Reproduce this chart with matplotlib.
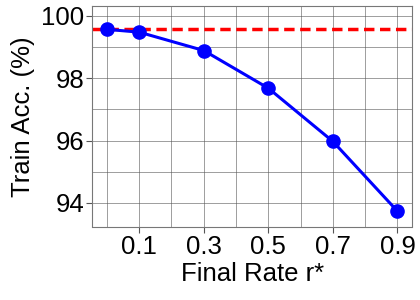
import numpy as np
import matplotlib
matplotlib.use("Agg")
import matplotlib.pyplot as plt

# final rate r* and train accuracy
rates = [0.0, 0.1, 0.3, 0.5, 0.7, 0.9]
train_acc = [99.57, 99.48, 98.89, 97.68, 95.97, 93.73]
baseline = 99.57
xtick_vals = [0.1, 0.3, 0.5, 0.7, 0.9]
ytick_vals = [94, 96, 98, 100]

plt.rcParams['font.family'] = ['Liberation Sans', 'DejaVu Sans']

fig = plt.figure(figsize=(4.2, 3.0), dpi=100)
ax = fig.add_axes([0.22, 0.245, 0.761, 0.735])

ax.axhline(baseline, color='red', linestyle='--', linewidth=2.5, dashes=(3, 1.6), zorder=2)
ax.plot(rates, train_acc, color='blue', linewidth=2.2, marker='o', markersize=9.5, zorder=3)

ax.set_xlim(-0.045, 0.945)
ax.set_ylim(93.24, 100.32)
ax.set_xticks(xtick_vals)
ax.set_xticklabels([str(v) for v in xtick_vals])
ax.set_xticks(np.arange(0.0, 0.95, 0.1), minor=True)
ax.set_yticks(ytick_vals)
ax.set_yticks(np.arange(94, 101, 1), minor=True)
ax.grid(which='both', color='#555555', linewidth=0.5, alpha=0.8)
ax.set_axisbelow(True)

ax.tick_params(which='major', labelsize=18.5, length=4, pad=2, color='#555555')
ax.tick_params(which='minor', length=0)
for s in ax.spines.values():
    s.set_color('#777777')
    s.set_linewidth(0.8)

ax.set_xlabel('Final Rate r*', fontsize=18.5, labelpad=2)
ax.set_ylabel('Train Acc. (%)', fontsize=18.5, labelpad=4)

fig.savefig('out.png', dpi=100)
